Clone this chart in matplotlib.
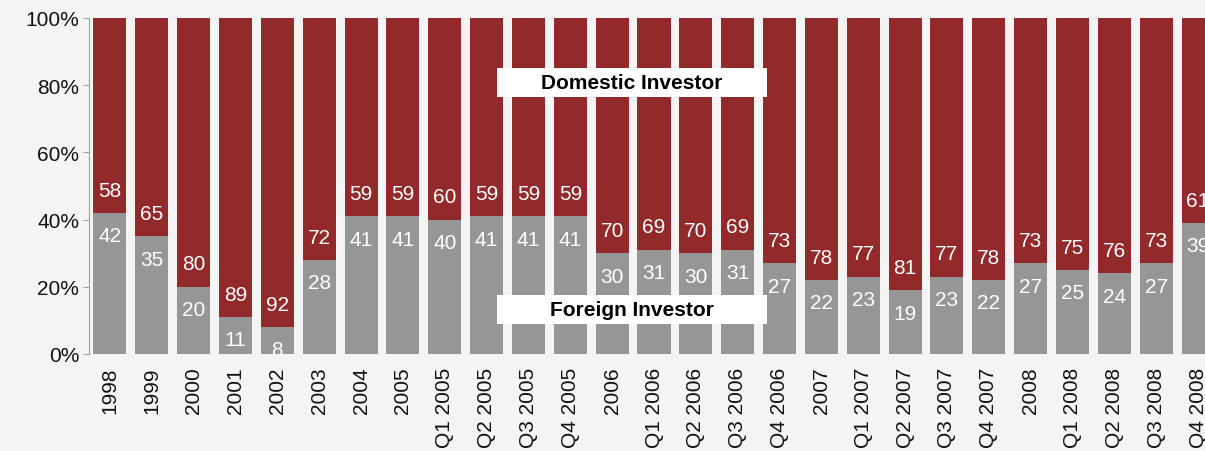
import numpy as np
import matplotlib
matplotlib.use("Agg")
import matplotlib.pyplot as plt
from matplotlib.patches import Rectangle
from matplotlib.ticker import PercentFormatter

# ── data ──
categories = ["1998", "1999", "2000", "2001", "2002", "2003", "2004", "2005",
              "Q1 2005", "Q2 2005", "Q3 2005", "Q4 2005", "2006",
              "Q1 2006", "Q2 2006", "Q3 2006", "Q4 2006", "2007",
              "Q1 2007", "Q2 2007", "Q3 2007", "Q4 2007", "2008",
              "Q1 2008", "Q2 2008", "Q3 2008", "Q4 2008"]
foreign = [42, 35, 20, 11, 8, 28, 41, 41, 40, 41, 41, 41, 30, 31, 30, 31, 27,
           22, 23, 19, 23, 22, 27, 25, 24, 27, 39]
domestic = [58, 65, 80, 89, 92, 72, 59, 59, 60, 59, 59, 59, 70, 69, 70, 69, 73,
            78, 77, 81, 77, 78, 73, 75, 76, 73, 61]

RED = "#922a2b"
GRAY = "#969696"
BG = "#f4f4f4"
FS = 15

plt.rcParams["font.family"] = ["Liberation Sans", "DejaVu Sans"]

fig = plt.figure(figsize=(12.05, 4.52), dpi=100, facecolor=BG)
ax = fig.add_axes([89 / 1205, 97 / 452, 1130 / 1205, 336 / 452])
ax.set_facecolor(BG)

x = np.arange(len(categories))
w = 0.79
ax.bar(x, foreign, width=w, color=GRAY, zorder=2)
ax.bar(x, [100 - f for f in foreign], bottom=foreign, width=w, color=RED, zorder=2)

# value labels either side of the split
off = 6.8
for i in range(len(categories)):
    ax.text(x[i], foreign[i] - off, str(foreign[i]), ha="center", va="center",
            color="white", fontsize=FS, zorder=3, clip_on=True)
    ax.text(x[i], foreign[i] + off, str(domestic[i]), ha="center", va="center",
            color="white", fontsize=FS, zorder=3, clip_on=True)

# series label boxes
for yb, label in [(0.765, "Domestic Investor"), (0.089, "Foreign Investor")]:
    ax.add_patch(Rectangle((0.361, yb), 0.239, 0.0863, transform=ax.transAxes,
                           facecolor="white", edgecolor="none", zorder=4))
    ax.text(0.361 + 0.239 / 2, yb + 0.0863 / 2, label, transform=ax.transAxes,
            ha="center", va="center", fontsize=FS, fontweight="bold",
            color="black", zorder=5)

ax.set_xlim(-0.5, len(categories) - 0.5)
ax.set_ylim(0, 100)
ax.yaxis.set_major_formatter(PercentFormatter(decimals=0))
ax.set_yticks(range(0, 101, 20))
ax.set_xticks(x)
ax.set_xticklabels(categories, rotation=90, ha="center", va="top")
ax.tick_params(axis="x", length=0, pad=9, labelsize=FS, labelcolor="#111111")
ax.tick_params(axis="y", length=4, color="#a0a0a0", labelsize=FS,
               labelcolor="#111111", pad=3)
for s in ["top", "right", "bottom"]:
    ax.spines[s].set_visible(False)
ax.spines["left"].set_color("#a0a0a0")

fig.savefig("out.png", dpi=100, facecolor=BG)
